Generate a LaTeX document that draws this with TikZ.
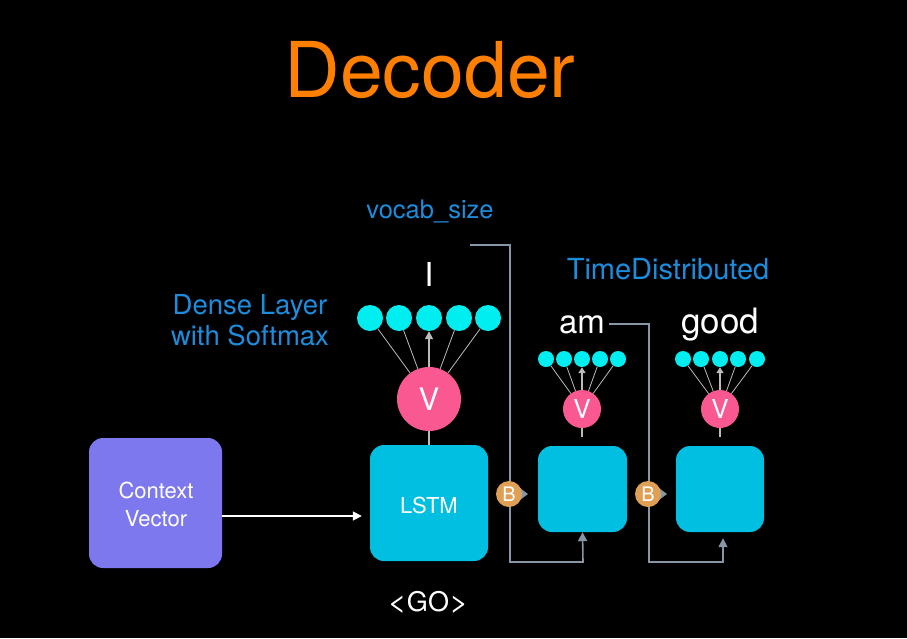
\documentclass[tikz,border=0pt]{standalone}
\usepackage{fontspec}
\setmainfont{TeX Gyre Heros}
\usetikzlibrary{arrows.meta,calc}
\definecolor{ttl}{HTML}{FF7F00}
\definecolor{lbl}{HTML}{1E8CDC}
\definecolor{dotc}{HTML}{00EEF0}
\definecolor{boxc}{HTML}{00BFE0}
\definecolor{pinkc}{HTML}{F95890}
\definecolor{purp}{HTML}{7E78EE}
\definecolor{bcol}{HTML}{DFA055}
\definecolor{conn}{HTML}{8796A6}
\definecolor{fan}{HTML}{BBBBBB}
\newcommand{\fs}[1]{\fontsize{#1}{#1}\selectfont}
\newcommand{\wideang}[1]{\scalebox{1.25}[1.0]{#1}}
\tikzset{
  txt/.style={inner sep=0pt,anchor=base},
  bigdot/.style={circle,fill=dotc,minimum size=26pt,inner sep=0pt},
  smdot/.style={circle,fill=dotc,minimum size=16pt,inner sep=0pt},
  bigv/.style={circle,fill=pinkc,minimum size=64pt,inner sep=0pt,text=white,font=\fs{31}},
  smv/.style={circle,fill=pinkc,minimum size=38pt,inner sep=0pt,text=white,font=\fs{26}},
  cellbox/.style={rounded corners=14pt,fill=boxc,inner sep=0pt},
  fanline/.style={draw=fan,line width=0.8pt},
  fanarrow/.style={draw=fan,line width=1.6pt,-{Triangle[length=8pt,width=8pt]}},
  stem/.style={draw=fan,line width=1.6pt},
  connline/.style={draw=conn,line width=1.6pt},
  connarrow/.style={draw=conn,line width=1.6pt,-{Triangle[length=9pt,width=9pt]}},
  bnode/.style={circle,fill=bcol,minimum size=26pt,inner sep=0pt,text=white,font=\fs{20}},
}
\begin{document}
\begin{tikzpicture}[x=1pt,y=-1pt]
\useasboundingbox (0,0) rectangle (907,638);
\fill[black] (0,0) rectangle (907,638);

% titles and labels
\node[txt,text=ttl,font=\fs{77}] (title) at (430,97) {Decoder};
\node[txt,text=lbl,font=\fs{25.5}] (vocab) at (430,218) {vocab\_size};
\node[txt,text=lbl,font=\fs{29}] (timed) at (668,279) {TimeDistributed};
\node[txt,text=lbl,font=\fs{27.5}] (dense) at (250,314) {Dense Layer};
\node[txt,text=lbl,font=\fs{27.5}] (dense2) at (250,345) {with Softmax};
\node[txt,text=white,font=\fs{33}] (wI) at (429,286) {I};
\node[txt,text=white,font=\fs{33}] (wam) at (582,333) {am};
\node[txt,text=white,font=\fs{35}] (wgood) at (720,333) {good};
\node[txt,text=white,font=\fs{27}] (go) at (428,611) {\wideang{<}GO\wideang{>}};

% boxes
\path[cellbox,fill=purp] (89,438) rectangle (222,568);
\node[txt,text=white,font=\fs{22}] (ctx1) at (156,498) {Context};
\node[txt,text=white,font=\fs{22}] (ctx2) at (156,526) {Vector};
\node[inner sep=0pt,minimum width=133pt,minimum height=130pt] (ctx) at (155.5,503) {};

\path[cellbox] (370,445) rectangle (488,561);
\node[inner sep=0pt,minimum width=118pt,minimum height=116pt] (lstm) at (429,503) {};
\node[txt,text=white,font=\fs{22}] (lstmt) at (429,513) {LSTM};

\path[cellbox] (538,446) rectangle (627,532);
\node[inner sep=0pt,minimum width=89pt,minimum height=86pt] (box2) at (582.5,489) {};
\path[cellbox] (676,446) rectangle (764,532);
\node[inner sep=0pt,minimum width=88pt,minimum height=86pt] (box3) at (720,489) {};

% big dense layer
\node[bigv] (v1) at (429,399) {V};
\foreach \i/\x in {1/370,2/399,3/429,4/459,5/488} {
  \node[bigdot] (a\i) at (\x,318) {};
}
\foreach \i in {1,2,4,5} { \draw[fanline] (v1) -- (a\i); }
\draw[fanarrow] (v1) -- (a3);
\draw[stem] (v1.south) -- (lstm.north);

% small dense layers
\node[smv] (v2) at (582,409) {V};
\foreach \i/\x in {1/546,2/564,3/582,4/600,5/618} {
  \node[smdot] (b\i) at (\x,359) {};
}
\foreach \i in {1,2,4,5} { \draw[fanline] (v2) -- (b\i); }
\draw[fanarrow,-{Triangle[length=6pt,width=7pt]}] (v2) -- (b3);
\draw[stem] (v2.south) -- ++(0,9);

\node[smv] (v3) at (720,409) {V};
\foreach \i/\x in {1/683,2/701,3/720,4/738,5/757} {
  \node[smdot] (c\i) at (\x,359) {};
}
\foreach \i in {1,2,4,5} { \draw[fanline] (v3) -- (c\i); }
\draw[fanarrow,-{Triangle[length=6pt,width=7pt]}] (v3) -- (c3);
\draw[stem] (v3.south) -- ++(0,9);

% context arrow
\draw[white,line width=1.6pt,-{Triangle[length=9pt,width=9pt]},shorten >=8pt] (ctx.east |- 0,516) -- (lstm.west |- 0,516);

% feedback connectors
\coordinate (f1) at (470,245);
\draw[connarrow] (f1) -- (510,245) -- (510,562) -- (583,562) -- (box2.south);
\draw[connarrow] (wam.east |- 0,324) ++(4,0) -- (649,324) -- (649,562) -- (723,562) -- ($(box3.south)+(3,6)$);

% B nodes
\fill[conn] (520,488) -- (528,494) -- (520,500) -- cycle;
\node[bnode] (b1) at (509,494) {B};
\fill[conn] (659,488) -- (667,494) -- (659,500) -- cycle;
\node[bnode] (b2) at (648,494) {B};
\end{tikzpicture}
\end{document}
